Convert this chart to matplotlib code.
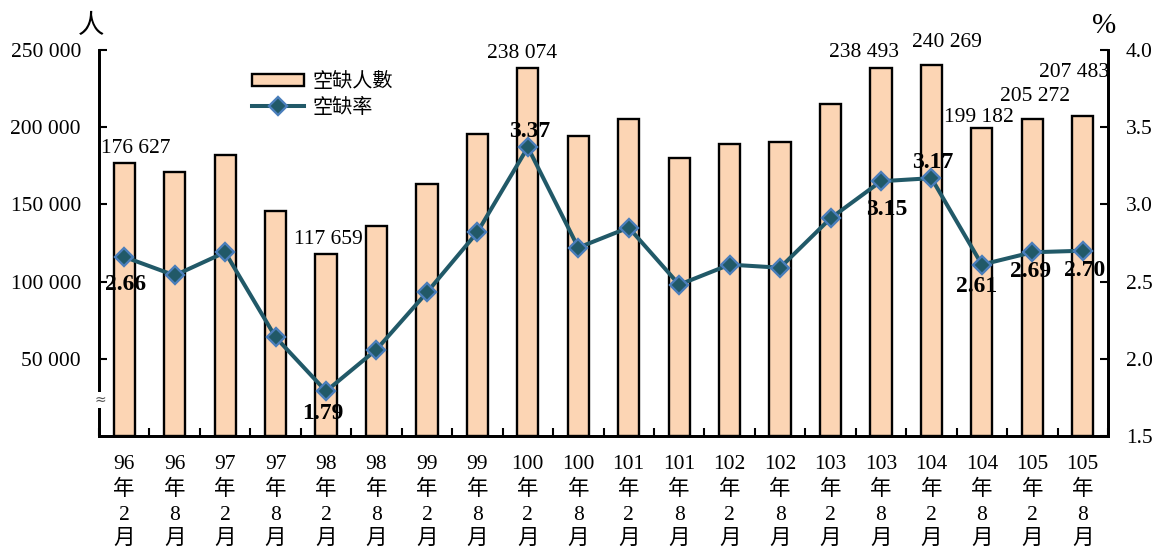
import matplotlib
matplotlib.use("Agg")
import matplotlib.pyplot as plt
import numpy as np
from matplotlib.ticker import FixedLocator
from matplotlib.patches import Patch

plt.rcParams['font.family'] = ['Liberation Serif', 'Noto Sans CJK TC', 'DejaVu Sans']

years = ["96", "96", "97", "97", "98", "98", "99", "99", "100", "100",
         "101", "101", "102", "102", "103", "103", "104", "104", "105", "105"]
months = ["2", "8"] * 10
vacancies = [176627, 171000, 182000, 145700, 117659, 136000, 163200, 195600, 238074, 194300,
             205300, 180000, 189100, 190400, 215000, 238493, 240269, 199182, 205272, 207483]
rates = [2.66, 2.54, 2.69, 2.14, 1.79, 2.06, 2.43, 2.82, 3.37, 2.72,
         2.85, 2.48, 2.61, 2.59, 2.91, 3.15, 3.17, 2.61, 2.69, 2.70]

# indices of labelled bars and their label offsets (points)
bar_label_idx = [0, 4, 8, 15, 16, 17, 18, 19]
bar_label_off = [(8, 11), (2, 11), (-4, 11), (-12, 11), (11, 16), (-2, 8), (2, 16), (-6, 31)]
rate_label_idx = [0, 4, 8, 15, 16, 17, 18, 19]
rate_label_off = [(1, -20), (-2, -16), (1, 11), (4, -20), (1, 11), (-4, -16), (-1, -14), (1, -14)]

fig = plt.figure(figsize=(11.53, 5.48), dpi=100)
ax = fig.add_axes([99/1153, 1-436/548, (1108-99)/1153, (436-50)/548])
ax2 = ax.twinx()

x = np.arange(len(vacancies))
bar_color = '#FCD5B4'
line_color = '#215968'
marker_edge = '#4A7EBB'

ax.bar(x, vacancies, width=0.42, color=bar_color, edgecolor='black', linewidth=1.7, zorder=2,
       label='空缺人數')
ax.set_xlim(-0.5, len(x) - 0.5)
ax.set_ylim(0, 250000)
ax.set_yticks([50000, 100000, 150000, 200000, 250000])
ax.set_yticklabels(['50 000', '100 000', '150 000', '200 000', '250 000'])

ln, = ax2.plot(x, rates, color=line_color, linewidth=2.9, marker='D', markersize=9,
               markerfacecolor=line_color, markeredgecolor=marker_edge, markeredgewidth=1.7,
               zorder=3, label='空缺率')
ax2.set_ylim(1.5, 4.0)
ax2.set_yticks([1.5, 2.0, 2.5, 3.0, 3.5, 4.0])
ax2.set_yticklabels(['1.5', '2.0', '2.5', '3.0', '3.5', '4.0'])

labels = [f"{y}\n年\n{m}\n月" for y, m in zip(years, months)]
ax.set_xticks(x)
ax.set_xticklabels(labels, fontsize=15.5, linespacing=1.38)
ax.xaxis.set_minor_locator(FixedLocator(np.arange(-0.5, len(x), 1.0)))
ax.tick_params(axis='x', which='major', length=0, pad=14)
ax.tick_params(axis='x', which='minor', direction='in', length=6, width=1.5)
ax.tick_params(axis='y', direction='in', length=6, width=1.5, labelsize=15.5, pad=13)
ax2.tick_params(axis='y', direction='in', length=6, width=1.5, labelsize=15.5, pad=13)

for a in (ax, ax2):
    a.spines['top'].set_visible(False)
    for s in ('left', 'right', 'bottom'):
        a.spines[s].set_linewidth(2)

for i, (dx, dy) in zip(bar_label_idx, bar_label_off):
    v = vacancies[i]
    s = f"{v:,}".replace(",", " ")
    ax.annotate(s, (x[i], v), xytext=(dx, dy), textcoords='offset points',
                ha='center', va='center', fontsize=15.5, zorder=5)

for i, (dx, dy) in zip(rate_label_idx, rate_label_off):
    ax2.annotate(f"{rates[i]:.2f}", (x[i], rates[i]), xytext=(dx, dy), textcoords='offset points',
                 ha='center', va='center', fontsize=17, fontweight='bold', zorder=6)

fig.text(91/1153, 1-26/548, '人', fontsize=19, ha='center', va='center')
fig.text(1104/1153, 1-26/548, '%', fontsize=21, ha='center', va='center')
fig.text(100/1153, 1-400/548, '≈', fontsize=10, ha='center', va='center', color='#555555',
         family=['DejaVu Sans'],
         bbox=dict(facecolor='white', edgecolor='none', pad=0.5))

handles = [Patch(facecolor=bar_color, edgecolor='black', linewidth=1.7), ln]
fig.legend(handles, ['空缺人數', '空缺率'], loc='upper left',
           bbox_to_anchor=(252/1153, 1-71/548), frameon=False,
           handlelength=2.6, handleheight=0.6, handletextpad=0.4, labelspacing=0.25,
           borderpad=0, borderaxespad=0, prop={'family': ['Noto Sans CJK TC'], 'size': 14.5})

fig.savefig('out.png', dpi=100)
